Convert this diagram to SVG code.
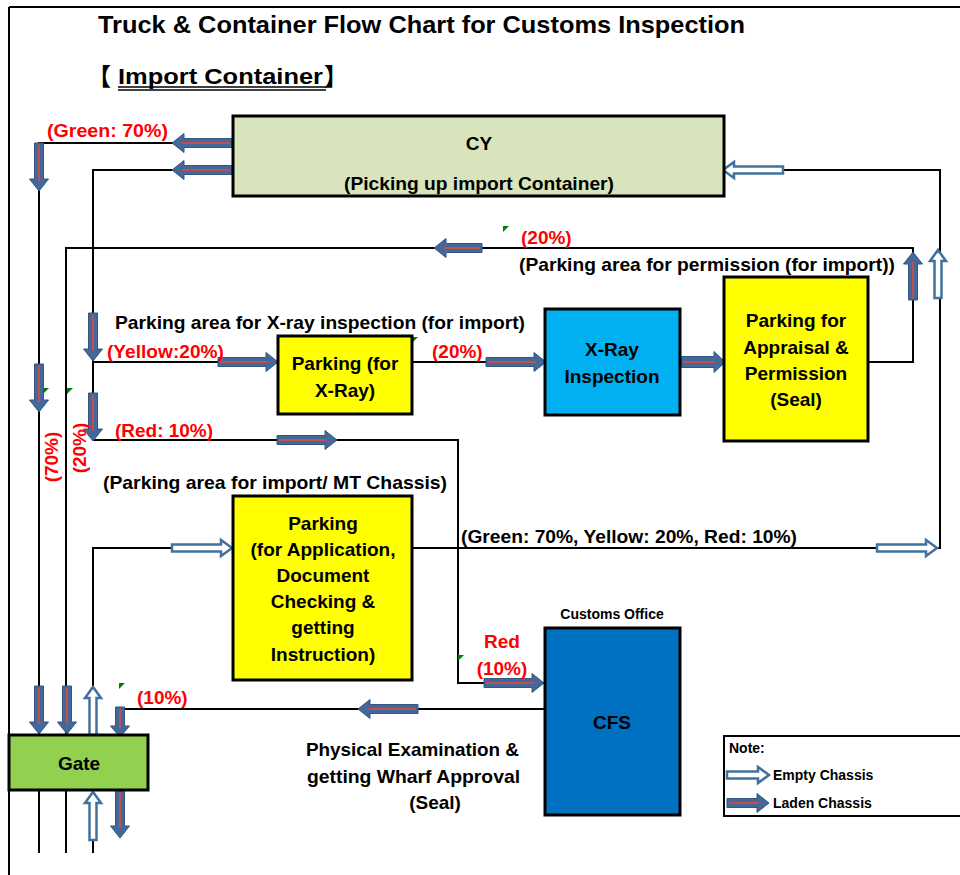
<svg xmlns="http://www.w3.org/2000/svg" xmlns:xlink="http://www.w3.org/1999/xlink" width="960" height="875" viewBox="0 0 960 875">
  <style>
    .line { fill: none; stroke: #000; stroke-width: 2; }
    .box { stroke: #000; stroke-width: 3; }
    .t { font-family: "Liberation Sans", Arial, sans-serif; font-weight: bold; fill: #000; font-size: 19px; }
    .c { text-anchor: middle; }
    .red { fill: #ff0000; }
    .small { font-size: 14px; }
    .bracket { font-family: "Noto Sans CJK JP", sans-serif; font-weight: bold; font-size: 24px; fill: #000; }
    .laden { fill: #44689a; stroke: #34557f; stroke-width: 1; }
    .stripe { fill: none; stroke: #c0504d; stroke-width: 2; }
    .empty { fill: #fff; stroke: #41719c; stroke-width: 2.5; }
    .tick { fill: #008000; }
  </style>
  <defs>
    <!-- laden chassis block arrows, pointing right, tail at origin -->
    <g id="aL60">
      <path class="laden" d="M0,-4.5 H48 V-9.5 L60,0 L48,9.5 V4.5 H0 Z"/>
      <path class="stripe" d="M2,0 H50"/>
    </g>
    <g id="aL48">
      <path class="laden" d="M0,-4.5 H36 V-9.5 L48,0 L36,9.5 V4.5 H0 Z"/>
      <path class="stripe" d="M2,0 H38"/>
    </g>
    <g id="aL44">
      <path class="laden" d="M0,-5.5 H33 V-10.5 L44,0 L33,10.5 V5.5 H0 Z"/>
      <path class="stripe" d="M2,0 H34"/>
    </g>
    <g id="aL42">
      <path class="laden" d="M0,-4.5 H30 V-9.5 L42,0 L30,9.5 V4.5 H0 Z"/>
      <path class="stripe" d="M2,0 H32"/>
    </g>
    <g id="aL30">
      <path class="laden" d="M0,-4.5 H19 V-9.5 L30,0 L19,9.5 V4.5 H0 Z"/>
      <path class="stripe" d="M2,0 H21"/>
    </g>
    <!-- empty chassis block arrows -->
    <path id="eL60" class="empty" d="M0,-3.5 H49 V-8 L60,0 L49,8 V3.5 H0 Z"/>
    <path id="eL48" class="empty" d="M0,-3.5 H37 V-8 L48,0 L37,8 V3.5 H0 Z"/>
    <path id="eL42" class="empty" d="M0,-3.5 H31 V-8 L42,0 L31,8 V3.5 H0 Z"/>
  </defs>

  <rect width="960" height="875" fill="#fff"/>

  <!-- sheet frame -->
  <path class="line" d="M9,7 H960 M9,7 V875"/>

  <!-- heading -->
  <text class="t" x="98" y="33" style="font-size:24px" textLength="647" lengthAdjust="spacingAndGlyphs">Truck &amp; Container Flow Chart for Customs Inspection</text>
  <text class="bracket" x="87" y="85">【</text>
  <text class="t" x="118" y="84" style="font-size:22px" textLength="205" lengthAdjust="spacingAndGlyphs">Import Container</text>
  <text class="bracket" x="324" y="85">】</text>
  <path class="line" style="stroke-width:1.5" d="M118,87 H326 M118,90 H326"/>

  <!-- connectors -->
  <g id="connectors">
    <path class="line" d="M233,143 H39 V735 M39,790 V853"/>
    <path class="line" d="M233,170 H93 V440 H458 V683 H545 M93,362 H278"/>
    <path class="line" d="M412,362 H545 M680,362 H724"/>
    <path class="line" d="M868,362 H913 V248 H66 V735 M66,790 V853"/>
    <path class="line" d="M412,548 H940 V170 H724"/>
    <path class="line" d="M233,548 H93 V735 M93,790 V853"/>
    <path class="line" d="M545,709 H120 V735"/>

    <!-- laden chassis -->
    <use href="#aL60" transform="translate(232,143) rotate(180)"/>
    <use href="#aL60" transform="translate(232,170) rotate(180)"/>
    <use href="#aL48" transform="translate(39,143) rotate(90)"/>
    <use href="#aL48" transform="translate(93,313) rotate(90)"/>
    <use href="#aL48" transform="translate(93,393) rotate(90)"/>
    <use href="#aL48" transform="translate(39,364) rotate(90)"/>
    <use href="#aL60" transform="translate(218,362)"/>
    <use href="#aL60" transform="translate(486,362)"/>
    <use href="#aL44" transform="translate(681,362)"/>
    <use href="#aL60" transform="translate(277,440)"/>
    <use href="#aL60" transform="translate(484,683)"/>
    <use href="#aL48" transform="translate(482,248) rotate(180)"/>
    <use href="#aL48" transform="translate(913,300) rotate(-90)"/>
    <use href="#aL60" transform="translate(418,709) rotate(180)"/>
    <use href="#aL48" transform="translate(39,686) rotate(90)"/>
    <use href="#aL48" transform="translate(67,686) rotate(90)"/>
    <use href="#aL30" transform="translate(120,707) rotate(90)"/>
    <use href="#aL48" transform="translate(120,790) rotate(90)"/>

    <!-- empty chassis -->
    <use href="#eL60" transform="translate(783,170) rotate(180)"/>
    <use href="#eL48" transform="translate(938,298) rotate(-90)"/>
    <use href="#eL60" transform="translate(172,548)"/>
    <use href="#eL60" transform="translate(877,548)"/>
    <use href="#eL48" transform="translate(93,735) rotate(-90)"/>
    <use href="#eL48" transform="translate(93,840) rotate(-90)"/>
  </g>

  <!-- flow labels -->
  <g id="labels">
    <text class="t red" x="47" y="137" textLength="121" lengthAdjust="spacingAndGlyphs">(Green: 70%)</text>
    <text class="t red" x="521" y="244">(20%)</text>
    <text class="t" x="519" y="271" textLength="376" lengthAdjust="spacingAndGlyphs">(Parking area for permission (for import))</text>
    <text class="t" x="115" y="329" textLength="410" lengthAdjust="spacingAndGlyphs">Parking area for X-ray inspection (for import)</text>
    <text class="t red" x="107" y="358" textLength="117" lengthAdjust="spacingAndGlyphs">(Yellow:20%)</text>
    <text class="t red" x="432" y="358">(20%)</text>
    <text class="t red" x="115" y="437" textLength="98" lengthAdjust="spacingAndGlyphs">(Red: 10%)</text>
    <text class="t" x="103" y="489" textLength="344" lengthAdjust="spacingAndGlyphs">(Parking area for import/ MT Chassis)</text>
    <text class="t" x="461" y="543" textLength="336" lengthAdjust="spacingAndGlyphs">(Green: 70%, Yellow: 20%, Red: 10%)</text>
    <text class="t red c" x="502" y="648">Red</text>
    <text class="t red c" x="502" y="675">(10%)</text>
    <text class="t red" x="137" y="704">(10%)</text>
    <text class="t red c" transform="translate(58,457) rotate(-90)">(70%)</text>
    <text class="t red c" transform="translate(86,448) rotate(-90)">(20%)</text>
    <text class="t" x="306" y="756" textLength="213" lengthAdjust="spacingAndGlyphs">Physical Examination &amp;</text>
    <text class="t" x="307" y="783" textLength="213" lengthAdjust="spacingAndGlyphs">getting Wharf Approval</text>
    <text class="t c" x="435" y="809">(Seal)</text>
    <text class="t c small" x="612" y="619">Customs Office</text>
  </g>

  <!-- cell markers -->
  <g id="markers">
    <polygon class="tick" points="412,337 418,337 412,343"/>
    <polygon class="tick" points="503,226 509,226 503,232"/>
    <polygon class="tick" points="43,388 49,388 43,394"/>
    <polygon class="tick" points="67,388 73,388 67,394"/>
    <polygon class="tick" points="119,683 125,683 119,689"/>
    <polygon class="tick" points="458,655 464,655 458,661"/>
  </g>

  <!-- nodes -->
  <g id="cy">
    <rect class="box" x="233" y="116" width="491" height="80" fill="#d8e4bc"/>
    <text class="t c" x="479" y="150">CY</text>
    <text class="t c" x="479" y="190" textLength="270" lengthAdjust="spacingAndGlyphs">(Picking up import Container)</text>
  </g>
  <g id="parking-xray">
    <rect class="box" x="278" y="336" width="134" height="78" fill="#ffff00"/>
    <text class="t c" x="345" y="370">Parking (for</text>
    <text class="t c" x="345" y="397">X-Ray)</text>
  </g>
  <g id="xray">
    <rect class="box" x="545" y="309" width="135" height="106" fill="#00b0f0"/>
    <text class="t c" x="612" y="356">X-Ray</text>
    <text class="t c" x="612" y="383">Inspection</text>
  </g>
  <g id="appraisal">
    <rect class="box" x="724" y="277" width="144" height="164" fill="#ffff00"/>
    <text class="t c" x="796" y="327">Parking for</text>
    <text class="t c" x="796" y="354">Appraisal &amp;</text>
    <text class="t c" x="796" y="380">Permission</text>
    <text class="t c" x="796" y="406">(Seal)</text>
  </g>
  <g id="application">
    <rect class="box" x="233" y="496" width="179" height="184" fill="#ffff00"/>
    <text class="t c" x="323" y="530">Parking</text>
    <text class="t c" x="323" y="556">(for Application,</text>
    <text class="t c" x="323" y="582">Document</text>
    <text class="t c" x="323" y="608">Checking &amp;</text>
    <text class="t c" x="323" y="634">getting</text>
    <text class="t c" x="323" y="661">Instruction)</text>
  </g>
  <g id="cfs">
    <rect class="box" x="545" y="628" width="135" height="187" fill="#0070c0"/>
    <text class="t c" x="612" y="729">CFS</text>
  </g>
  <g id="gate">
    <rect class="box" x="9" y="735" width="139" height="55" fill="#92d050"/>
    <text class="t c" x="79" y="770">Gate</text>
  </g>

  <!-- legend -->
  <g id="legend">
    <rect x="724" y="736" width="240" height="80" fill="#fff" stroke="#000" stroke-width="2"/>
    <text class="t small" x="729" y="753">Note:</text>
    <use href="#eL42" transform="translate(727,775)"/>
    <text class="t small" x="773" y="780">Empty Chassis</text>
    <use href="#aL42" transform="translate(727,803)"/>
    <text class="t small" x="773" y="808">Laden Chassis</text>
  </g>
</svg>
